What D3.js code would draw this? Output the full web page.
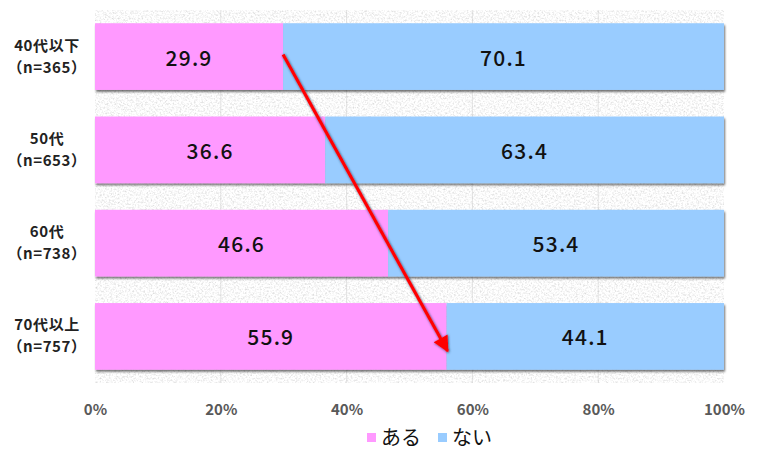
<!DOCTYPE html>
<html><head><meta charset="utf-8">
<script src="https://cdn.jsdelivr.net/npm/d3@7"></script>
<style>
html,body{margin:0;padding:0;background:#fff;}
svg{display:block;font-family:"Noto Sans CJK JP","Noto Sans",sans-serif;}
</style></head>
<body><svg id="c" width="757" height="450"></svg>
<script>
const categories = ["40代以下", "50代", "60代", "70代以上"];
const sampleSizes = ["（n=365）", "（n=653）", "（n=738）", "（n=757）"];
const aru = [29.9, 36.6, 46.6, 55.9];
const nai = [70.1, 63.4, 53.4, 44.1];
const seriesNames = ["ある", "ない"];
const xTicks = [0, 20, 40, 60, 80, 100];

const colors = ["#FF99FF", "#99CCFF"];
const svg = d3.select("#c");
const m = {left: 95, right: 33, top: 10, bottom: 67};
const W = 757, H = 450;

const x = d3.scaleLinear().domain([0, 100]).range([m.left, W - m.right]);
const y = d3.scaleBand().domain(categories).range([m.top, H - m.bottom]).paddingInner(0.285).paddingOuter(0.142);

const defs = svg.append("defs");
const f = defs.append("filter").attr("id", "granite").attr("x", 0).attr("y", 0).attr("width", 1).attr("height", 1);
f.append("feTurbulence").attr("type", "fractalNoise").attr("baseFrequency", 0.55).attr("numOctaves", 3).attr("seed", 7).attr("result", "n");
f.append("feColorMatrix").attr("type", "matrix")
  .attr("values", "0.65 0 0 0 0.63  0.65 0 0 0 0.63  0.65 0 0 0 0.63  0 0 0 0 1");

const sh = defs.append("filter").attr("id", "shadow").attr("x", -0.05).attr("y", -0.2).attr("width", 1.1).attr("height", 1.5);
sh.append("feDropShadow").attr("dx", 1).attr("dy", 2).attr("stdDeviation", 1.3).attr("flood-color", "#000").attr("flood-opacity", 0.55);

const ash = defs.append("filter").attr("id", "ashadow").attr("x", -0.2).attr("y", -0.2).attr("width", 1.4).attr("height", 1.4);
ash.append("feDropShadow").attr("dx", 0.5).attr("dy", 0.5).attr("stdDeviation", 0.8).attr("flood-color", "#1a3a5a").attr("flood-opacity", 0.9);

defs.append("marker").attr("id", "head").attr("viewBox", "0 0 10 10").attr("refX", 9).attr("refY", 5)
  .attr("markerWidth", 6).attr("markerHeight", 5).attr("markerUnits", "strokeWidth").attr("orient", "auto")
  .append("path").attr("d", "M0,0 L10,5 L0,10 Z").attr("fill", "#FF0000");

// plot background
svg.append("rect").attr("x", x(0)).attr("y", m.top).attr("width", x(100) - x(0)).attr("height", H - m.bottom - m.top)
  .attr("filter", "url(#granite)");

// faint gridlines
svg.append("g").selectAll("line").data(xTicks.slice(1, -1)).join("line")
  .attr("x1", d => x(d)).attr("x2", d => x(d)).attr("y1", m.top).attr("y2", H - m.bottom)
  .attr("stroke", "#c8c8c8").attr("stroke-width", 1).attr("opacity", 0.5);

// bars
const rows = categories.map((c, i) => ({c, vals: [aru[i], nai[i]]}));
const g = svg.append("g");
rows.forEach(r => {
  let acc = 0;
  const rg = g.append("g").attr("filter", "url(#shadow)");
  r.vals.forEach((v, j) => {
    rg.append("rect").attr("x", x(acc)).attr("y", y(r.c)).attr("width", x(acc + v) - x(acc)).attr("height", y.bandwidth())
      .attr("fill", colors[j]);
    acc += v;
  });
});
rows.forEach(r => {
  let acc = 0;
  r.vals.forEach((v, j) => {
    g.append("text").attr("x", (x(acc) + x(acc + v)) / 2).attr("y", y(r.c) + y.bandwidth() / 2)
      .attr("text-anchor", "middle").attr("dominant-baseline", "central")
      .attr("font-size", 21).attr("letter-spacing", 1.2).attr("font-weight", 500).attr("fill", "#111").text(v.toFixed(1));
    acc += v;
  });
});

// category labels
const yl = svg.append("g");
categories.forEach((c, i) => {
  const cy = y(c) + y.bandwidth() / 2;
  const t = yl.append("text").attr("text-anchor", "middle").attr("font-size", 15).attr("letter-spacing", 0.6).attr("font-weight", 700).attr("fill", "#222");
  t.append("tspan").attr("x", 47).attr("y", cy - 6).text(c);
  t.append("tspan").attr("x", 47).attr("y", cy + 16).text(sampleSizes[i]);
});

// x axis
const xa = svg.append("g").attr("transform", `translate(0,${H - m.bottom})`)
  .call(d3.axisBottom(x).tickValues(xTicks).tickFormat(d => d + "%").tickSize(0).tickPadding(21));
xa.select(".domain").remove();
xa.selectAll("text").attr("font-size", 15).attr("font-weight", 700).attr("fill", "#595959")
  .attr("font-family", "\"Noto Sans CJK JP\",\"Noto Sans\",sans-serif");

// arrow
const ax1 = x(aru[0]), ay1 = y(categories[0]) + y.bandwidth() * 0.47;
const ax2 = x(aru[3]) + 1, ay2 = y(categories[3]) + y.bandwidth() * 0.72;
svg.append("line").attr("x1", ax1).attr("y1", ay1).attr("x2", ax2).attr("y2", ay2)
  .attr("stroke", "#FF0000").attr("stroke-width", 3.2).attr("marker-end", "url(#head)").attr("filter", "url(#ashadow)");

// legend
const lg = svg.append("g");
const items = [{n: seriesNames[0], c: colors[0], x: 367}, {n: seriesNames[1], c: colors[1], x: 438}];
items.forEach(it => {
  lg.append("rect").attr("x", it.x).attr("y", 433).attr("width", 9).attr("height", 9).attr("fill", it.c);
  lg.append("text").attr("x", it.x + 14).attr("y", 436).attr("dominant-baseline", "central")
    .attr("font-size", 20).attr("fill", "#111").text(it.n);
});
</script></body></html>
